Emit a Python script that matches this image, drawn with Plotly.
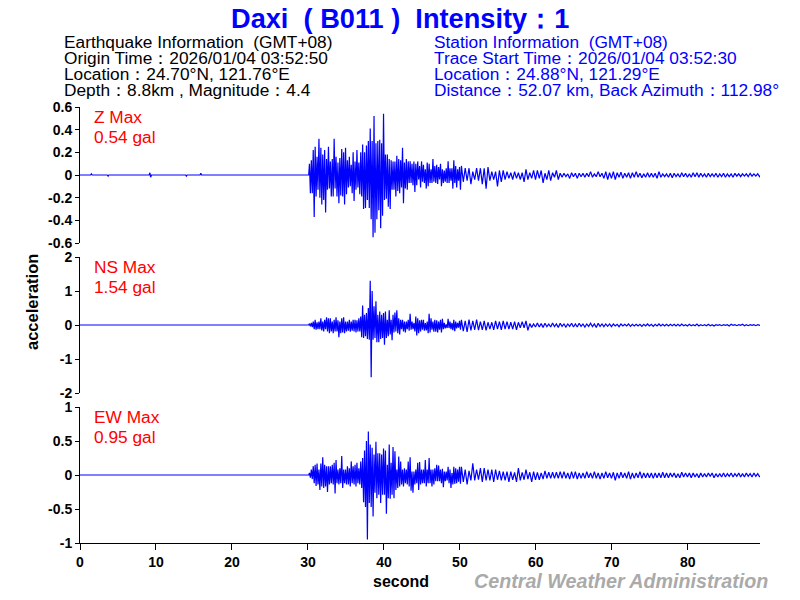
import plotly.graph_objects as go

# seconds between the hand-read envelope samples
DENSE_START, DENSE_STEP = 30.2, 0.25
TAIL_START, TAIL_STEP = 50.2, 0.5

# quiet part before the P arrival
pre_t = [0, 1.4, 1.5, 1.6, 3.6, 3.7, 3.8, 9.1, 9.2, 9.3, 9.4, 13.9, 14.0, 14.1, 15.8, 15.9, 16.0, 30.1]
z_pre = [0, 0, 0.01, 0, 0, -0.01, 0, 0, 0.02, -0.02, 0, 0, -0.01, 0, 0, 0.015, 0, 0]
ns_pre = [0, 0, 0, 0, 0, 0.01, 0, 0, 0, 0, 0, 0, 0, 0, 0, 0, 0, 0]
ew_pre = [0, 0, 0.01, 0, 0, 0, 0, 0, 0.01, 0, 0, 0, 0, 0, 0, 0, 0, 0]

z_hi = [.10, .13, .22, .25, .16, .32, .24, .18, .22, .14,
        .25, .12, .14, .32, .16, .11, .15, .23, .20, .24,
        .13, .16, .09, .20, .12, .22, .11, .20, .27, .20,
        .26, .30, .41, .30, .52, .28, .30, .31, .28, .54,
        .18, .18, .14, .13, .12, .12, .17, .14, .13, .24,
        .11, .14, .12, .12, .10, .12, .10, .12, .08, .12,
        .09, .05, .11, .10, .05, .14, .08, .09, .07, .10,
        .05, .04, .06, .12, .06, .06, .13, .08, .05, .07]
z_lo = [-.16, -.16, -.37, -.19, -.13, -.20, -.26, -.22, -.33, -.13,
        -.12, -.19, -.19, -.12, -.19, -.25, -.18, -.19, -.26, -.17,
        -.11, -.10, -.16, -.23, -.13, -.11, -.17, -.19, -.30, -.29,
        -.22, -.29, -.39, -.55, -.51, -.39, -.31, -.47, -.36, -.22,
        -.21, -.28, -.30, -.13, -.13, -.19, -.14, -.16, -.11, -.25,
        -.12, -.13, -.07, -.07, -.09, -.15, -.09, -.04, -.11, -.06,
        -.07, -.12, -.10, -.07, -.07, -.06, -.07, -.08, -.04, -.10,
        -.07, -.06, -.07, -.07, -.05, -.12, -.07, -.11, -.05, -.13]
z_tail_hi = [.08, .06, .06, .03, .06, .06, .06, .07, .03, .03,
             .04, .04, .03, .02, .03, .02, .02, .05, .02, .04,
             .04, .04, .015, .04, .02, .04, .015, .015, .01, .02,
             .015, .015, .015, .015, .03, .01, .03, .015, .03, .02,
             .03, .02, .025, .015, .02, .02, .03, .015, .01, .02,
             .015, .015, .03, .01, .01, .015, .015, .01, .02, .015,
             .01, .02, .02, .015, .01, .015, .01, .015, .01, .015,
             .01, .01, .015, .01, .01, .01, .015, .01, .01, .01]
z_tail_lo = [-.06, -.05, -.08, -.04, -.05, -.08, -.12, -.05, -.04, -.10,
             -.06, -.04, -.03, -.04, -.03, -.04, -.06, -.04, -.03, -.04,
             -.03, -.07, -.04, -.05, -.02, -.04, -.02, -.015, -.03, -.015,
             -.03, -.015, -.02, -.015, -.02, -.015, -.015, -.03, -.04, -.03,
             -.04, -.02, -.03, -.02, -.03, -.02, -.02, -.025, -.02, -.02,
             -.02, -.03, -.02, -.015, -.02, -.025, -.015, -.02, -.015, -.02,
             -.02, -.015, -.02, -.015, -.02, -.015, -.015, -.02, -.015, -.02,
             -.015, -.02, -.01, -.015, -.01, -.015, -.01, -.01, -.015, -.01]

ns_hi = [.04, .06, .10, .15, .08, .10, .20, .10, .15, .23,
         .20, .20, .10, .15, .23, .14, .10, .20, .23, .10,
         .10, .15, .10, .15, .15, .14, .20, .25, .57, .30,
         .35, .50, 1.30, 1.00, .55, .70, .30, .40, .30, .35,
         .40, .15, .43, .15, .30, .37, .43, .20, .15, .15,
         .10, .10, .15, .33, .10, .06, .25, .20, .14, .15,
         .15, .06, .10, .33, .20, .10, .15, .14, .10, .15,
         .18, .06, .02, .18, .10, .06, .15, .10, .06, .12]
ns_lo = [-.04, -.06, -.12, -.14, -.12, -.12, -.16, -.19, -.12, -.19,
         -.24, -.19, -.24, -.19, -.19, -.36, -.24, -.22, -.24, -.19,
         -.17, -.20, -.17, -.19, -.22, -.19, -.19, -.36, -.38, -.33,
         -.41, -.43, -1.54, -.43, -.38, -.51, -.51, -.41, -.38, -.58,
         -.38, -.33, -.28, -.45, -.22, -.19, -.24, -.28, -.12, -.19,
         -.22, -.12, -.17, -.14, -.12, -.19, -.31, -.24, -.19, -.14,
         -.17, -.16, -.24, -.22, -.14, -.20, -.20, -.22, -.14, -.22,
         -.12, -.10, -.09, -.09, -.12, -.15, -.18, -.10, -.08, -.14]
ns_tail_hi = [.15, .12, .16, .12, .16, .10, .12, .08, .08, .12,
              .10, .12, .10, .08, .10, .08, .10, .12, .04, .03,
              .06, .04, .05, .03, .06, .03, .05, .03, .03, .05,
              .03, .05, .03, .03, .05, .03, .05, .03, .03, .03,
              .03, .02, .03, .02, .03, .02, .02, .02, .02, .03,
              .02, .02, .03, .02, .02, .02, .02, .02, .03, .01,
              .02, .01, .03, .01, .01, .02, .01, .01, .01, .01,
              .01, .02, .01, .01, .02, .01, .01, .01, .01, .01]
ns_tail_lo = [-.18, -.20, -.16, -.14, -.15, -.14, -.16, -.12, -.14, -.12,
              -.14, -.12, -.12, -.12, -.14, -.08, -.08, -.16, -.07, -.06,
              -.06, -.07, -.05, -.06, -.05, -.07, -.04, -.06, -.04, -.06,
              -.06, -.04, -.06, -.04, -.05, -.07, -.04, -.05, -.04, -.05,
              -.03, -.05, -.03, -.03, -.04, -.03, -.03, -.04, -.03, -.03,
              -.04, -.03, -.03, -.03, -.03, -.02, -.03, -.03, -.02, -.03,
              -.02, -.02, -.03, -.02, -.02, -.02, -.03, -.01, -.02, -.01,
              -.03, -.01, -.02, -.01, -.02, -.02, -.01, -.02, -.01, -.03]

ew_hi = [.03, .08, .13, .15, .17, .08, .17, .26, .15, .13,
         .13, .13, .15, .18, .22, .08, .10, .28, .08, .08,
         .13, .10, .20, .13, .15, .18, .10, .20, .25, .36,
         .50, .64, .45, .40, .30, .49, .32, .32, .30, .39,
         .36, .15, .45, .18, .41, .35, .08, .27, .20, .08,
         .10, .08, .20, .26, .05, .05, .08, .18, .19, .08,
         .08, .22, .08, .25, .08, .08, .10, .15, .14, .08,
         .09, .05, .05, .12, .08, .03, .12, .10, .08, .12]
ew_lo = [-.04, -.06, -.12, -.16, -.14, -.22, -.17, -.19, -.17, -.25,
         -.14, -.12, -.14, -.27, -.12, -.14, -.12, -.19, -.12, -.14,
         -.14, -.17, -.12, -.14, -.17, -.12, -.14, -.19, -.40, -.47,
         -.95, -.41, -.47, -.61, -.26, -.34, -.29, -.41, -.29, -.29,
         -.57, -.34, -.35, -.29, -.34, -.22, -.19, -.17, -.14, -.17,
         -.12, -.14, -.17, -.23, -.26, -.14, -.12, -.22, -.14, -.12,
         -.12, -.17, -.12, -.12, -.17, -.14, -.09, -.09, -.09, -.12,
         -.18, -.09, -.08, -.12, -.19, -.14, -.13, -.12, -.10, -.13]
ew_tail_hi = [.12, .08, .06, .17, .08, .10, .10, .08, .08, .08,
              .06, .05, .05, .05, .04, .10, .04, .08, .04, .05,
              .04, .03, .06, .04, .04, .04, .05, .05, .03, .05,
              .05, .03, .03, .05, .03, .05, .03, .03, .05, .03,
              .04, .03, .04, .03, .05, .03, .03, .05, .03, .03,
              .03, .03, .03, .04, .03, .03, .03, .02, .04, .03,
              .03, .03, .02, .03, .02, .03, .03, .02, .02, .03,
              .02, .03, .02, .03, .02, .03, .02, .03, .02, .02]
ew_tail_lo = [-.10, -.14, -.08, -.08, -.07, -.10, -.08, -.08, -.10, -.07,
              -.08, -.08, -.10, -.07, -.10, -.08, -.07, -.06, -.10, -.07,
              -.07, -.06, -.05, -.05, -.05, -.05, -.05, -.05, -.06, -.05,
              -.06, -.05, -.05, -.04, -.05, -.05, -.06, -.05, -.04, -.05,
              -.08, -.05, -.04, -.05, -.06, -.05, -.04, -.05, -.04, -.04,
              -.05, -.04, -.04, -.04, -.04, -.03, -.04, -.04, -.03, -.03,
              -.04, -.03, -.04, -.03, -.03, -.02, -.04, -.03, -.03, -.03,
              -.02, -.03, -.02, -.03, -.03, -.02, -.03, -.02, -.03, -.02]

x_ticks = [0, 10, 20, 30, 40, 50, 60, 70, 80]
z_ticks = [0.6, 0.4, 0.2, 0, -0.2, -0.4, -0.6]
z_labels = ['0.6', '0.4', '0.2', '0', '-0.2', '-0.4', '-0.6']
ns_ticks = [2, 1, 0, -1, -2]
ns_labels = ['2', '1', '0', '-1', '-2']
ew_ticks = [1, 0.5, 0, -0.5, -1]
ew_labels = ['1', '0.5', '0', '-0.5', '-1']

quake_lines = ['Earthquake Information  (GMT+08)',
               'Origin Time：2026/01/04 03:52:50',
               'Location：24.70°N, 121.76°E',
               'Depth：8.8km , Magnitude：4.4']
station_lines = ['Station Information  (GMT+08)',
                 'Trace Start Time：2026/01/04 03:52:30',
                 'Location：24.88°N, 121.29°E',
                 'Distance：52.07 km, Back Azimuth：112.98°']

W, H = 800, 600
FONT = 'Liberation Sans'


def zigzag(pre, hi, lo, tail_hi, tail_lo):
    """Join the read envelope samples into one trace, up and down in turn."""
    xs, ys = list(pre_t), list(pre)
    for i, (a, b) in enumerate(zip(hi, lo)):
        t = DENSE_START + i * DENSE_STEP
        xs.extend([t, t + DENSE_STEP / 2])
        ys.extend([a, b])
    for i, (a, b) in enumerate(zip(tail_hi, tail_lo)):
        t = TAIL_START + i * TAIL_STEP
        xs.extend([t, t + TAIL_STEP / 2])
        ys.extend([a, b])
    return xs, ys


def text_at(px, py, text, color='black', size=17.3, anchor='left', **kw):
    return dict(x=px / W, y=1 - py / H, xref='paper', yref='paper', text=text,
                showarrow=False, xanchor=anchor, yanchor='middle',
                font=dict(family=FONT, size=size, color=color), **kw)


fig = go.Figure()
for axis, series in (('y', (z_pre, z_hi, z_lo, z_tail_hi, z_tail_lo)),
                     ('y2', (ns_pre, ns_hi, ns_lo, ns_tail_hi, ns_tail_lo)),
                     ('y3', (ew_pre, ew_hi, ew_lo, ew_tail_hi, ew_tail_lo))):
    xs, ys = zigzag(*series)
    fig.add_trace(go.Scatter(x=xs, y=ys, mode='lines', xaxis='x', yaxis=axis,
                             line=dict(color='#0000ff', width=1.2), hoverinfo='skip'))


def y_axis(top, bottom, span, ticks, labels):
    return dict(domain=[1 - bottom / H, 1 - top / H], range=[-span, span], anchor='x',
                tickmode='array', tickvals=ticks, ticktext=labels, ticks='outside',
                ticklen=4, tickwidth=1, tickcolor='black', showline=True,
                linecolor='black', linewidth=1, showgrid=False, zeroline=False,
                tickfont=dict(family=FONT, size=14, color='black', weight='bold'))


annotations = [text_at(400, 18, '<b>Daxi  ( B011 )  Intensity：1</b>', '#0000ff', 27.2, 'center')]
for n, (left, right) in enumerate(zip(quake_lines, station_lines)):
    annotations.append(text_at(62, 42 + 16 * n, left))
    annotations.append(text_at(432, 42 + 16 * n, right, '#0000ff'))
for top, name, peak in ((117, 'Z Max', '0.54 gal'), (267, 'NS Max', '1.54 gal'), (417, 'EW Max', '0.95 gal')):
    annotations.append(text_at(92, top, name, 'red'))
    annotations.append(text_at(92, top + 20, peak, 'red'))
annotations.append(text_at(32, 302, '<b>acceleration</b>', 'black', 16.5, 'center', textangle=-90))
annotations.append(text_at(401, 581, '<b>second</b>', 'black', 16, 'center'))
annotations.append(text_at(770, 581, '<b><i>Central Weather Administration</i></b>', '#aaaaaa', 19.7, 'right'))

fig.update_layout(
    width=W, height=H, autosize=False, showlegend=False,
    margin=dict(l=0, r=0, t=0, b=0, autoexpand=False), paper_bgcolor='white', plot_bgcolor='white',
    xaxis=dict(domain=[80 / W, 760 / W], range=[0, 89.5], anchor='y3',
               tickmode='array', tickvals=x_ticks, ticks='outside', ticklen=6,
               tickwidth=1, tickcolor='black', showline=True, linecolor='black',
               linewidth=1, showgrid=False, zeroline=False,
               tickfont=dict(family=FONT, size=14, color='black', weight='bold')),
    yaxis=y_axis(107, 243, 0.6, z_ticks, z_labels),
    yaxis2=y_axis(257, 393, 2, ns_ticks, ns_labels),
    yaxis3=y_axis(407, 543, 1, ew_ticks, ew_labels),
    annotations=annotations,
)

fig.write_html("out.html", config={'displayModeBar': False},
               post_script="document.body.style.margin='0';")
